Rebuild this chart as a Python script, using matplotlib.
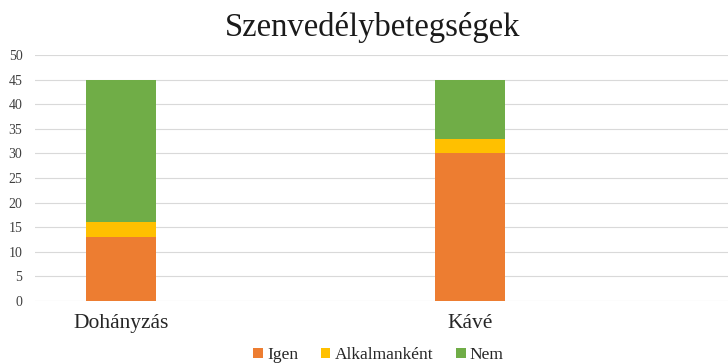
import matplotlib.pyplot as plt
import numpy as np

categories = ["Dohányzás", "Kávé"]
igen = [13, 30]
alkalmankent = [3, 3]
nem = [29, 12]
series_names = ["Igen", "Alkalmanként", "Nem"]
colors = ["#ED7D31", "#FFC000", "#70AD47"]

plt.rcParams['font.family'] = ['Liberation Serif', 'DejaVu Serif']

fig = plt.figure(figsize=(7.28, 3.64), dpi=100)
ax = fig.add_axes([0.048, 0.173, 0.952, 0.676])

x = np.arange(len(categories))
bottom = np.zeros(len(categories))
handles = []
for vals, name, col in zip([igen, alkalmankent, nem], series_names, colors):
    h = ax.bar(x, vals, width=0.2, bottom=bottom, color=col, label=name, zorder=3)
    handles.append(h)
    bottom += np.array(vals)

ax.set_ylim(0, 50)
ax.set_yticks(range(0, 51, 5))
ax.set_xlim(-0.246, 1.739)
ax.set_xticks(x)
ax.set_xticklabels(categories, fontsize=15.5, color="#262626")
ax.tick_params(axis='y', labelsize=10, colors="#404040", length=0, pad=9)
ax.tick_params(axis='x', length=0, pad=9)
ax.grid(axis='y', color="#d9d9d9", linewidth=0.8, zorder=0)
for s in ax.spines.values():
    s.set_visible(False)

fig.text(0.512, 0.925, "Szenvedélybetegségek", ha='center', va='center', fontsize=23.5, color="#1a1a1a")

fig.legend(handles, series_names, loc='center', bbox_to_anchor=(0.52, 0.025), ncol=3,
           frameon=False, fontsize=12.5, handlelength=0.55, handleheight=0.55,
           handletextpad=0.25, columnspacing=1.3, labelcolor="#262626")

fig.savefig("out.png", dpi=100)
